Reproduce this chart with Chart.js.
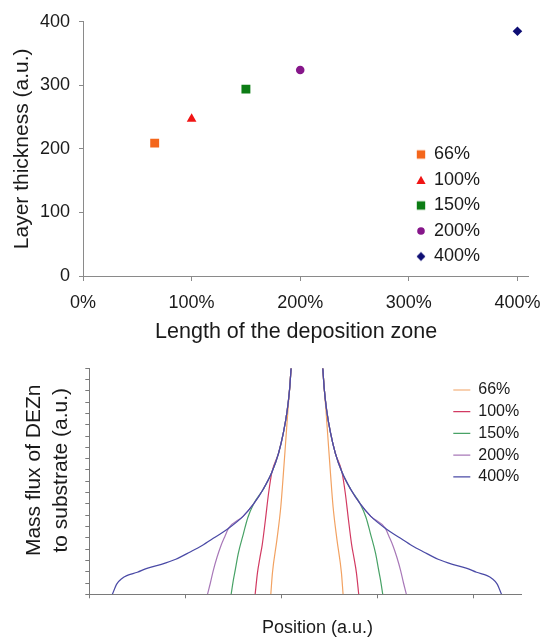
<!DOCTYPE html>
<html>
<head>
<meta charset="utf-8">
<script src="https://cdn.jsdelivr.net/npm/chart.js@4.4.1/dist/chart.umd.min.js"></script>
<style>
  html, body { margin: 0; padding: 0; background: #fff; }
  canvas { display: block; }
</style>
</head>
<body>
<canvas id="chartEspessura" width="543" height="345"></canvas>
<canvas id="chartFluxo" width="543" height="294"></canvas>
<script>
// dados do gráfico de cima (espessura x comprimento da zona)
const zonaRotulos = ["66%", "100%", "150%", "200%", "400%"];
const zonaComprimento = [66, 100, 150, 200, 400];
const espessuraCamada = [209, 247, 294, 324, 385];
const zonaTicks = [0, 100, 200, 300, 400];
const espessuraTicks = [0, 100, 200, 300, 400];

// dados do gráfico de baixo (fluxo de DEZn x posição), null = corte no topo
const pos66 = [1.889, 1.906, 1.952, 1.993, 2.02, 2.045, 2.07, 2.085, 2.10, 2.265, 2.43, 2.445, 2.46, 2.485, 2.51, 2.537, 2.578, 2.624, 2.641];
const fluxo66 = [0, 1.9, 4.8, 7.75, 10.7, 13.65, 16.6, 18.2, 20, null, 20, 18.2, 16.6, 13.65, 10.7, 7.75, 4.8, 1.9, 0];

const pos100 = [1.726, 1.75, 1.775, 1.80, 1.833, 1.865, 1.90, 1.97, 2.02, 2.06, 2.085, 2.10, 2.265, 2.43, 2.445, 2.47, 2.51, 2.56, 2.63, 2.665, 2.697, 2.73, 2.755, 2.78, 2.804];
const fluxo100 = [0, 1.9, 3.2, 4.4, 6.6, 8.9, 10.8, 12.5, 14.3, 16.3, 18.2, 20, null, 20, 18.2, 16.3, 14.3, 12.5, 10.8, 8.9, 6.6, 4.4, 3.2, 1.9, 0];

const pos150 = [1.476, 1.50, 1.52, 1.55, 1.605, 1.65, 1.71, 1.81, 1.90, 1.97, 2.02, 2.06, 2.085, 2.10, 2.265, 2.43, 2.445, 2.47, 2.51, 2.56, 2.63, 2.72, 2.82, 2.88, 2.925, 2.98, 3.01, 3.03, 3.054];
const fluxo150 = [0, 1.3, 2.2, 3.6, 5.4, 6.8, 8.0, 9.3, 10.8, 12.5, 14.3, 16.3, 18.2, 20, null, 20, 18.2, 16.3, 14.3, 12.5, 10.8, 9.3, 8.0, 6.8, 5.4, 3.6, 2.2, 1.3, 0];

const pos200 = [1.23, 1.26, 1.29, 1.33, 1.37, 1.41, 1.45, 1.60, 1.71, 1.81, 1.90, 1.97, 2.02, 2.06, 2.085, 2.10, 2.265, 2.43, 2.445, 2.47, 2.51, 2.56, 2.63, 2.72, 2.82, 2.93, 3.08, 3.12, 3.16, 3.20, 3.24, 3.27, 3.30];
const fluxo200 = [0, 1.0, 2.1, 3.3, 4.3, 5.1, 5.85, 6.9, 8.0, 9.3, 10.8, 12.5, 14.3, 16.3, 18.2, 20, null, 20, 18.2, 16.3, 14.3, 12.5, 10.8, 9.3, 8.0, 6.9, 5.85, 5.1, 4.3, 3.3, 2.1, 1.0, 0];

const pos400 = [0.24, 0.285, 0.34, 0.39, 0.50, 0.60, 0.75, 0.90, 1.05, 1.17, 1.29, 1.45, 1.60, 1.71, 1.81, 1.90, 1.97, 2.02, 2.06, 2.085, 2.10, 2.265,
  2.43, 2.445, 2.47, 2.51, 2.56, 2.63, 2.72, 2.82, 2.93, 3.08, 3.24, 3.36, 3.48, 3.63, 3.78, 3.93, 4.03, 4.14, 4.19, 4.245, 4.29];
const fluxo400 = [0, 0.9, 1.4, 1.65, 1.95, 2.3, 2.65, 3.1, 3.75, 4.3, 4.95, 5.85, 6.9, 8.0, 9.3, 10.8, 12.5, 14.3, 16.3, 18.2, 20, null,
  20, 18.2, 16.3, 14.3, 12.5, 10.8, 9.3, 8.0, 6.9, 5.85, 4.95, 4.3, 3.75, 3.1, 2.65, 2.3, 1.95, 1.65, 1.4, 0.9, 0];

const curvasRotulos = ["66%", "100%", "150%", "200%", "400%"];
const curvasPos = [pos66, pos100, pos150, pos200, pos400];
const curvasFluxo = [fluxo66, fluxo100, fluxo150, fluxo200, fluxo400];
const posicaoTicks = [0, 1, 2, 3, 4];

// estilos
const marcadores = ["rect", "triangle", "rect", "circle", "rectRot"];
const coresMarcador = ["#f4661b", "#f01414", "#0c7c14", "#86168a", "#0e0e74"];
const raiosMarcador = [6.3, 5.6, 6.3, 4.3, 4.8];
const coresCurva = ["#f2a262", "#d23a62", "#48a266", "#a878b8", "#4a4aa6"];

Chart.defaults.font.family = '"Liberation Sans", Arial, sans-serif';
Chart.defaults.color = "#1a1a1a";

// move a legenda pra dentro da área do gráfico
function legendaInterna(x, y) {
  return {
    id: "legendaInterna",
    afterLayout(chart) {
      const lg = chart.legend;
      if (!lg) return;
      const w = lg.width;
      lg.left = x;
      lg.right = x + w;
      lg.top = y;
      lg.bottom = y + 250;
    },
  };
}

// desloca o título de um eixo (o original não fica centrado)
function deslocarTitulos(deslocamentos) {
  return {
    id: "deslocarTitulos",
    beforeDraw(chart) {
      Object.keys(deslocamentos).forEach((id) => {
        const escala = chart.scales[id];
        if (!escala || escala._tituloDeslocado) return;
        const [dx, dy] = deslocamentos[id];
        const original = escala.drawTitle;
        escala.drawTitle = function () {
          this.ctx.save();
          this.ctx.translate(dx, dy);
          original.call(this);
          this.ctx.restore();
        };
        escala._tituloDeslocado = true;
      });
    },
  };
}

// ícones menores pra legenda de cima
function iconeLegenda(estilo, cor) {
  const c = document.createElement("canvas");
  c.width = 12;
  c.height = 12;
  const ctx = c.getContext("2d");
  ctx.fillStyle = cor;
  ctx.beginPath();
  if (estilo === "rect") {
    ctx.rect(1.8, 1.8, 8.4, 8.4);
  } else if (estilo === "triangle") {
    ctx.moveTo(6, 1.8);
    ctx.lineTo(10.6, 10);
    ctx.lineTo(1.4, 10);
    ctx.closePath();
  } else if (estilo === "circle") {
    ctx.arc(6, 6, 3.8, 0, Math.PI * 2);
  } else {
    ctx.moveTo(6, 1.6);
    ctx.lineTo(10.4, 6);
    ctx.lineTo(6, 10.4);
    ctx.lineTo(1.6, 6);
    ctx.closePath();
  }
  ctx.fill();
  return c;
}

const eixoCinza = "#8a8a8a";

new Chart(document.getElementById("chartEspessura"), {
  type: "scatter",
  data: {
    datasets: zonaRotulos.map((rotulo, i) => ({
      label: rotulo,
      data: [{ x: zonaComprimento[i], y: espessuraCamada[i] }],
      pointStyle: marcadores[i],
      backgroundColor: coresMarcador[i],
      borderColor: coresMarcador[i],
      borderWidth: 0,
      pointRadius: raiosMarcador[i],
      pointHoverRadius: raiosMarcador[i],
    })),
  },
  options: {
    responsive: false,
    animation: false,
    layout: { padding: { top: 21.7, right: 14.7, left: 0, bottom: 0 } },
    plugins: {
      legend: {
        position: "chartArea",
        align: "start",
        labels: {
          usePointStyle: true,
          boxWidth: 8,
          boxHeight: 8,
          padding: 7.5,
          font: { size: 18 },
          color: "#1a1a1a",
          generateLabels(chart) {
            const itens = Chart.defaults.plugins.legend.labels.generateLabels(chart);
            itens.forEach((item) => {
              item.pointStyle = iconeLegenda(marcadores[item.datasetIndex], coresMarcador[item.datasetIndex]);
            });
            return itens;
          },
        },
      },
      tooltip: { enabled: false },
    },
    scales: {
      x: {
        type: "linear",
        min: 0,
        max: 410,
        afterBuildTicks: (s) => { s.ticks = zonaTicks.map((v) => ({ value: v })); },
        ticks: {
          autoSkip: false,
          maxRotation: 0,
          padding: 11,
          font: { size: 18 },
          callback: (v) => v + "%",
        },
        grid: { drawOnChartArea: false, drawTicks: true, tickLength: 5, color: eixoCinza },
        border: { color: eixoCinza },
        title: { display: true, text: "Length of the deposition zone", font: { size: 21.5 }, padding: 0 },
        afterFit: (s) => { s.height = 69; s.paddingLeft = 0; s.paddingRight = 0; },
      },
      y: {
        min: 0,
        max: 400,
        afterBuildTicks: (s) => { s.ticks = espessuraTicks.map((v) => ({ value: v })); },
        ticks: { padding: 9, font: { size: 18 } },
        grid: { drawOnChartArea: false, drawTicks: true, tickLength: 4, color: eixoCinza },
        border: { color: eixoCinza },
        title: { display: true, text: "Layer thickness (a.u.)", font: { size: 21 }, padding: { top: 10, bottom: 0 } },
        afterFit: (s) => { s.width = 83; s.paddingTop = 0; s.paddingBottom = 0; },
      },
    },
  },
  plugins: [legendaInterna(409.5, 138), deslocarTitulos({ x: [-9.5, 0] })],
});

new Chart(document.getElementById("chartFluxo"), {
  type: "line",
  data: {
    datasets: curvasRotulos.map((rotulo, i) => ({
      label: rotulo,
      data: curvasPos[i].map((x, j) => ({ x: x, y: curvasFluxo[i][j] })),
      borderColor: coresCurva[i],
      backgroundColor: coresCurva[i],
      borderWidth: 1.2,
      pointRadius: 0,
      pointStyle: "line",
      cubicInterpolationMode: "monotone",
      spanGaps: false,
      fill: false,
      order: curvasRotulos.length - 1 - i,
    })),
  },
  options: {
    responsive: false,
    animation: false,
    layout: { padding: { top: 23.3, right: 21.3, left: 0, bottom: 0 } },
    plugins: {
      legend: {
        position: "chartArea",
        align: "start",
        labels: {
          usePointStyle: true,
          pointStyleWidth: 17,
          boxHeight: 10,
          padding: 5.7,
          font: { size: 16 },
          color: "#1a1a1a",
          sort: (a, b) => a.datasetIndex - b.datasetIndex,
        },
      },
      tooltip: { enabled: false },
    },
    scales: {
      x: {
        type: "linear",
        min: 0,
        max: 4.5,
        afterBuildTicks: (s) => { s.ticks = posicaoTicks.map((v) => ({ value: v })); },
        ticks: { autoSkip: false, callback: () => "" },
        grid: { drawOnChartArea: false, drawTicks: true, tickLength: 4, color: "#7a7a7a" },
        border: { color: "#7a7a7a" },
        title: { display: true, text: "Position (a.u.)", font: { size: 18 }, padding: 0 },
        afterFit: (s) => { s.height = 44.7; s.paddingLeft = 0; s.paddingRight = 0; },
      },
      y: {
        min: 0,
        max: 20,
        ticks: { stepSize: 1, autoSkip: false, callback: () => "" },
        grid: { drawOnChartArea: false, drawTicks: true, tickLength: 4, color: "#7a7a7a" },
        border: { color: "#7a7a7a" },
        title: {
          display: true,
          text: ["Mass flux of DEZn", "to substrate (a.u.)"],
          font: { size: 21, lineHeight: 1.32 },
          padding: { top: 20, bottom: 0 },
        },
        afterFit: (s) => { s.width = 89.3; s.paddingTop = 0; s.paddingBottom = 0; },
      },
    },
  },
  plugins: [legendaInterna(447.6, 31.3), deslocarTitulos({ x: [12, 0], y: [0, -11] })],
});
</script>
</body>
</html>
